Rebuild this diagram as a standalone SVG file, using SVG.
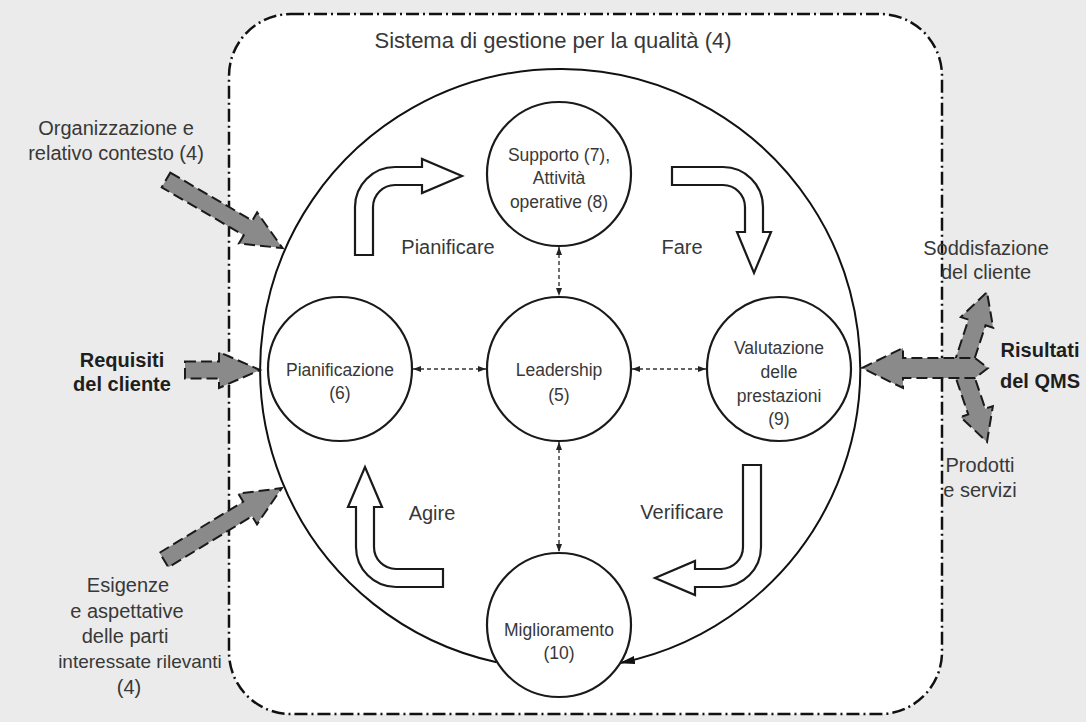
<svg xmlns="http://www.w3.org/2000/svg" width="1086" height="722" viewBox="0 0 1086 722">
<defs>
<style>
.t{font-family:"Liberation Sans",Arial,sans-serif;fill:#383838;text-anchor:middle}
.lbl{font-size:20px}
.ttl{font-size:22px}
.node{font-size:17.5px}
.b{font-weight:bold;fill:#1e1e1e}
.circ{fill:#fff;stroke:#1a1a1a;stroke-width:2.2}
.blk{fill:#fff;stroke:#1a1a1a;stroke-width:2.2;stroke-linejoin:miter}
.gray{fill:#8a8a8a;stroke:#1a1a1a;stroke-width:2;stroke-dasharray:11 5;stroke-linejoin:miter}
.dl{fill:none;stroke:#333;stroke-width:1.4;stroke-dasharray:4 3}
</style>
<marker id="sm" viewBox="0 0 8 6" refX="8" refY="3" markerWidth="8" markerHeight="6" markerUnits="userSpaceOnUse" orient="auto-start-reverse">
<path d="M0,0 L8,3 L0,6 z" fill="#222"/>
</marker>
<marker id="big" viewBox="0 0 16 8" refX="15" refY="4" markerWidth="16" markerHeight="8" markerUnits="userSpaceOnUse" orient="auto">
<path d="M0,0 L16,4 L0,8 z" fill="#111"/>
</marker>
</defs>

<rect x="0" y="0" width="1086" height="722" fill="#ebebeb"/>

<g id="system-boundary">
<rect x="229" y="14" width="713" height="700" rx="62" ry="62" fill="#fff" stroke="#111" stroke-width="2.5" stroke-dasharray="13 4 2 4"/>
<text class="t ttl" x="553" y="48">Sistema di gestione per la qualità (4)</text>
</g>

<g id="connectors">
<path d="M496.6,662.2 A300,300 0 1 1 620,663" fill="none" stroke="#111" stroke-width="2" marker-end="url(#big)"/>
<line class="dl" x1="559" y1="247" x2="559" y2="296" marker-start="url(#sm)" marker-end="url(#sm)"/>
<line class="dl" x1="413" y1="369" x2="486" y2="369" marker-start="url(#sm)" marker-end="url(#sm)"/>
<line class="dl" x1="632" y1="369" x2="706" y2="369" marker-start="url(#sm)" marker-end="url(#sm)"/>
<line class="dl" x1="559" y1="442" x2="559" y2="552" marker-start="url(#sm)" marker-end="url(#sm)"/>
</g>

<g id="pdca-arrows">
<path class="blk" d="M355,255 L355,207 A40,40 0 0 1 395,167 L422,167 L422,159 L462,176 L422,193 L422,185 L395,185 A22,22 0 0 0 373,207 L373,255 Z"/>
<path class="blk" d="M672,167 L723,167 A40,40 0 0 1 763,207 L763,232 L771,232 L754,273 L737,232 L745,232 L745,207 A22,22 0 0 0 723,185 L672,185 Z"/>
<path class="blk" d="M743,465 L761,465 L761,547 A40,40 0 0 1 721,587 L695,587 L695,595 L655,578 L695,561 L695,569 L721,569 A22,22 0 0 0 743,547 Z"/>
<path class="blk" d="M443,569 L396,569 A22,22 0 0 1 374,547 L374,507 L382,507 L365,467 L348,507 L356,507 L356,547 A40,40 0 0 0 396,587 L443,587 Z"/>
<text class="t lbl" x="448" y="254">Pianificare</text>
<text class="t lbl" x="682" y="254">Fare</text>
<text class="t lbl" x="682" y="519">Verificare</text>
<text class="t lbl" x="432" y="520">Agire</text>
</g>

<g id="input-organizzazione">
<g transform="translate(166,180) rotate(30.3)">
<path class="gray" d="M0,-8.5 L95,-8.5 L95,-18 L135,0 L95,18 L95,8.5 L0,8.5 Z"/>
</g>
<text class="t lbl" x="116" y="135">Organizzazione e</text>
<text class="t lbl" x="116" y="160">relativo contesto (4)</text>
</g>

<g id="input-requisiti">
<path class="gray" d="M185,361.5 L219,361.5 L219,352 L260,370 L219,388 L219,378.5 L185,378.5 Z"/>
<text class="t lbl b" x="122" y="367">Requisiti</text>
<text class="t lbl b" x="122" y="391">del cliente</text>
</g>

<g id="input-esigenze">
<g transform="translate(164,560) rotate(-31.4)">
<path class="gray" d="M0,-8.5 L98,-8.5 L98,-18 L138,0 L98,18 L98,8.5 L0,8.5 Z"/>
</g>
<text class="t lbl" x="128" y="592">Esigenze</text>
<text class="t lbl" x="127" y="618">e aspettative</text>
<text class="t lbl" x="125" y="643">delle parti</text>
<text class="t lbl" x="140" y="668" style="font-size:19px">interessate rilevanti</text>
<text class="t lbl" x="129" y="694">(4)</text>
</g>

<g id="output-risultati">
<g transform="translate(962,368) rotate(-71.8)">
<path class="gray" d="M0,-9 L48,-9 L48,-17 L80,0 L48,17 L48,9 L0,9 Z"/>
</g>
<g transform="translate(962,368) rotate(71.3)">
<path class="gray" d="M0,-9 L46,-9 L46,-17 L78,0 L46,17 L46,9 L0,9 Z"/>
</g>
<path class="gray" d="M862,368 L903,348 L903,358 L975,358 L988,368 L975,378 L903,378 L903,388 Z"/>
<text class="t lbl" x="986" y="255">Soddisfazione</text>
<text class="t lbl" x="986" y="279">del cliente</text>
<text class="t lbl b" x="1040" y="357">Risultati</text>
<text class="t lbl b" x="1040" y="388">del QMS</text>
<text class="t lbl" x="980" y="472">Prodotti</text>
<text class="t lbl" x="980" y="497">e servizi</text>
</g>

<g id="node-supporto">
<circle class="circ" cx="559" cy="174" r="72"/>
<text class="t node" x="559" y="161">Supporto (7),</text>
<text class="t node" x="559" y="184">Attività</text>
<text class="t node" x="559" y="208">operative (8)</text>
</g>

<g id="node-pianificazione">
<circle class="circ" cx="340" cy="369" r="72"/>
<text class="t node" x="340" y="376">Pianificazione</text>
<text class="t node" x="340" y="399">(6)</text>
</g>

<g id="node-leadership">
<circle class="circ" cx="559" cy="369" r="72"/>
<text class="t node" x="559" y="376">Leadership</text>
<text class="t node" x="559" y="401">(5)</text>
</g>

<g id="node-valutazione">
<circle class="circ" cx="779" cy="369" r="72"/>
<text class="t node" x="779" y="354">Valutazione</text>
<text class="t node" x="779" y="378">delle</text>
<text class="t node" x="779" y="402">prestazioni</text>
<text class="t node" x="779" y="425">(9)</text>
</g>

<g id="node-miglioramento">
<circle class="circ" cx="559" cy="625" r="72"/>
<text class="t node" x="559" y="636">Miglioramento</text>
<text class="t node" x="559" y="659">(10)</text>
</g>
</svg>
